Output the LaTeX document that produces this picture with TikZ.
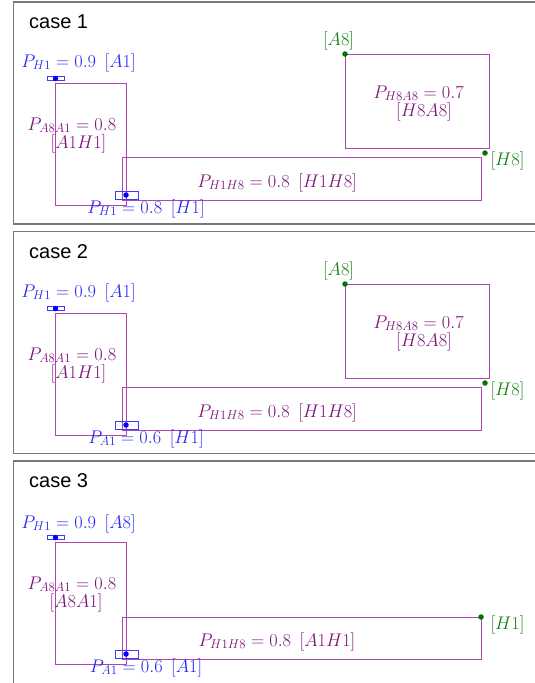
\RequirePackage{fix-cm}
\documentclass[tikz,border=0pt]{standalone}
\usepackage{fontspec}
\newfontfamily\casefont{Liberation Sans}
\definecolor{bluetxt}{RGB}{40,40,245}
\definecolor{bluebox}{RGB}{60,60,250}
\definecolor{purtxt}{RGB}{125,20,125}
\definecolor{purline}{RGB}{175,70,175}
\definecolor{grntxt}{RGB}{20,130,20}
\definecolor{grndot}{RGB}{0,115,0}
\definecolor{framecol}{RGB}{120,120,120}
\tikzset{
  frame/.style={draw=framecol, line width=1.2pt},
  casetitle/.style={font=\casefont\fontsize{20}{22}\selectfont, anchor=base west, inner sep=0pt},
  mlabel/.style={font=\fontsize{18.3}{20}\selectfont, anchor=base, inner sep=0pt},
  bluelab/.style={mlabel, text=bluetxt},
  purlab/.style={mlabel, text=purtxt},
  grnlab/.style={mlabel, text=grntxt},
  prect/.style={draw=purline, line width=1pt},
  bbox/.style={draw=bluebox, line width=1pt},
  bdot/.style={fill=blue, circle, inner sep=0pt, minimum size=5.5pt},
  gdot/.style={fill=grndot, circle, inner sep=0pt, minimum size=5.5pt},
}
\begin{document}
\begin{tikzpicture}[x=1pt, y=-1pt]
\useasboundingbox (0,0) rectangle (535,683);
\clip (0,0) rectangle (535,683);
% ---------- panel 1 ----------
\begin{scope}
\draw[frame] (13.5,2) rectangle (545,224);
\node[casetitle] (c1) at (29,28) {case 1};
\draw[prect] (55,83) rectangle (126,205);
\draw[prect] (122,157) rectangle (481,200);
\draw[prect] (345,54) rectangle (489,148);
\draw[bbox] (47,76.5) rectangle (64,80.5);
\node[bdot] (d1a) at (55.5,78.5) {};
\draw[bbox] (115,191.5) rectangle (138,199.5);
\node[bdot] (d1b) at (126,195) {};
\node[bluelab] (l1a) at (78.5,67) {$P_{H1}=0.9\ \,[A1]$};
\node[purlab] (l1b) at (72,130) {$P_{A8A1}=0.8$};
\node[purlab] (l1c) at (78.5,148) {$[A1H1]$};
\node[purlab] (l1d) at (277,187) {$P_{H1H8}=0.8\ \,[H1H8]$};
\node[bluelab] (l1e) at (146,213) {$P_{H1}=0.8\ \,[H1]$};
\node[grnlab] (l1f) at (338.5,45) {$[A8]$};
\node[gdot] (g1a) at (345,54) {};
\node[purlab] (l1g) at (418.5,98) {$P_{H8A8}=0.7$};
\node[purlab] (l1h) at (424,116) {$[H8A8]$};
\node[gdot] (g1b) at (485,153) {};
\node[grnlab] (l1i) at (507.5,165) {$[H8]$};
\end{scope}
% ---------- panel 2 ----------
\begin{scope}[shift={(0,230)}]
\draw[frame] (13.5,1.5) rectangle (545,223.5);
\node[casetitle] (c2) at (29,28) {case 2};
\draw[prect] (55,83) rectangle (126,205);
\draw[prect] (122,157) rectangle (481,200);
\draw[prect] (345,54) rectangle (489,148);
\draw[bbox] (47,76.5) rectangle (64,80.5);
\node[bdot] (d2a) at (55.5,78.5) {};
\draw[bbox] (115,191.5) rectangle (138,199.5);
\node[bdot] (d2b) at (126,195) {};
\node[bluelab] (l2a) at (78.5,67) {$P_{H1}=0.9\ \,[A1]$};
\node[purlab] (l2b) at (72,130) {$P_{A8A1}=0.8$};
\node[purlab] (l2c) at (78.5,148) {$[A1H1]$};
\node[purlab] (l2d) at (277,187) {$P_{H1H8}=0.8\ \,[H1H8]$};
\node[bluelab] (l2e) at (146,213) {$P_{A1}=0.6\ \,[H1]$};
\node[grnlab] (l2f) at (338.5,45) {$[A8]$};
\node[gdot] (g2a) at (345,54) {};
\node[purlab] (l2g) at (418.5,98) {$P_{H8A8}=0.7$};
\node[purlab] (l2h) at (424,116) {$[H8A8]$};
\node[gdot] (g2b) at (485,153) {};
\node[grnlab] (l2i) at (507.5,165) {$[H8]$};
\end{scope}
% ---------- panel 3 ----------
\begin{scope}[shift={(0,459)}]
\draw[frame] (13.5,2) rectangle (545,240);
\node[casetitle] (c3) at (29,28) {case 3};
\draw[prect] (55,83) rectangle (126,205);
\draw[prect] (122,158) rectangle (481,200);
\draw[bbox] (47,76.5) rectangle (64,80.5);
\node[bdot] (d3a) at (55.5,78.5) {};
\draw[bbox] (115,191.5) rectangle (138,199.5);
\node[bdot] (d3b) at (126,195) {};
\node[bluelab] (l3a) at (78.5,69) {$P_{H1}=0.9\ \,[A8]$};
\node[purlab] (l3b) at (72,130) {$P_{A8A1}=0.8$};
\node[purlab] (l3c) at (76,148) {$[A8A1]$};
\node[purlab] (l3d) at (277,187) {$P_{H1H8}=0.8\ \,[A1H1]$};
\node[bluelab] (l3e) at (146,213) {$P_{A1}=0.6\ \,[A1]$};
\node[gdot] (g3a) at (481,158) {};
\node[grnlab] (l3i) at (507.5,170) {$[H1]$};
\end{scope}
\end{tikzpicture}
\end{document}
